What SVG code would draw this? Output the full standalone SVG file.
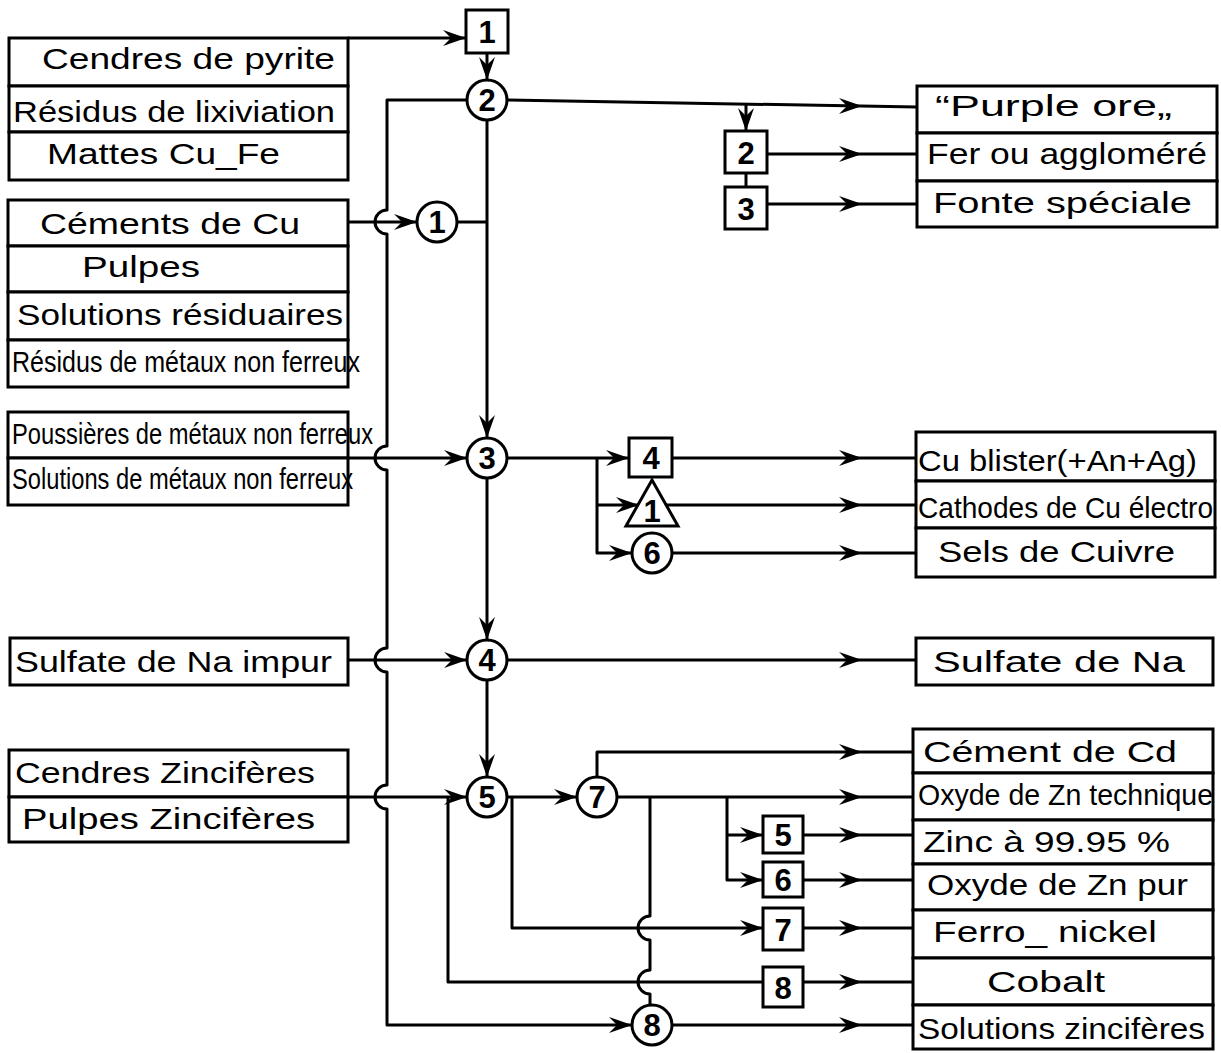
<svg xmlns="http://www.w3.org/2000/svg" xmlns:xlink="http://www.w3.org/1999/xlink" width="1221" height="1053" viewBox="0 0 1221 1053">
<style>
.bx{fill:#fff;stroke:#000;stroke-width:3}
.ln{fill:none;stroke:#000;stroke-width:3;stroke-linejoin:round}
.t{font-family:"Liberation Sans",Arial,sans-serif;font-size:30px;fill:#000}
.tc{font-family:"Liberation Sans",Arial,sans-serif;font-size:29px;fill:#000}
.n{font-family:"Liberation Sans",Arial,sans-serif;font-size:31px;font-weight:bold;text-anchor:middle;fill:#000}
</style>
<defs>
<path id="ah" d="M0,0 L-23,-8 L-15,0 L-23,8 Z" fill="#000"/>
</defs>
<rect width="1221" height="1053" fill="#fff"/>

<g id="connectors">
<path class="ln" d="M348,38 H466"/>
<use xlink:href="#ah" transform="translate(466,38)"/>
<path class="ln" d="M487,53 V80"/>
<use xlink:href="#ah" transform="translate(487,80) rotate(90)"/>
<path class="ln" d="M467,100 H387 V210 A12,12 0 0 0 387,234 V446 A12,12 0 0 0 387,470 V648 A12,12 0 0 0 387,672 V785 A12,12 0 0 0 387,809 V1025 H632"/>
<use xlink:href="#ah" transform="translate(632,1025)"/>
<path class="ln" d="M507,100 L917,107"/>
<use xlink:href="#ah" transform="translate(862,106)"/>
<path class="ln" d="M746,104 V131"/>
<use xlink:href="#ah" transform="translate(746,131) rotate(90)"/>
<path class="ln" d="M767,154 H917"/>
<use xlink:href="#ah" transform="translate(862,154)"/>
<path class="ln" d="M746,173 V187"/>
<path class="ln" d="M767,204 H917"/>
<use xlink:href="#ah" transform="translate(862,204)"/>
<path class="ln" d="M487,120 V438"/>
<use xlink:href="#ah" transform="translate(487,438) rotate(90)"/>
<path class="ln" d="M457,222 H487"/>
<path class="ln" d="M348,222 H417"/>
<use xlink:href="#ah" transform="translate(417,222)"/>
<path class="ln" d="M348,458 H467"/>
<use xlink:href="#ah" transform="translate(467,458)"/>
<path class="ln" d="M487,478 V640"/>
<use xlink:href="#ah" transform="translate(487,640) rotate(90)"/>
<path class="ln" d="M507,458 H629"/>
<use xlink:href="#ah" transform="translate(629,458)"/>
<path class="ln" d="M597,458 V553 H632"/>
<use xlink:href="#ah" transform="translate(632,553)"/>
<path class="ln" d="M597,505 H639"/>
<use xlink:href="#ah" transform="translate(639,505)"/>
<path class="ln" d="M672,458 H916"/>
<use xlink:href="#ah" transform="translate(862,458)"/>
<path class="ln" d="M665,505 H916"/>
<use xlink:href="#ah" transform="translate(862,505)"/>
<path class="ln" d="M672,553 H916"/>
<use xlink:href="#ah" transform="translate(862,553)"/>
<path class="ln" d="M348,660 H467"/>
<use xlink:href="#ah" transform="translate(467,660)"/>
<path class="ln" d="M507,660 H916"/>
<use xlink:href="#ah" transform="translate(862,660)"/>
<path class="ln" d="M487,680 V777"/>
<use xlink:href="#ah" transform="translate(487,777) rotate(90)"/>
<path class="ln" d="M348,797 H467"/>
<use xlink:href="#ah" transform="translate(467,797)"/>
<path class="ln" d="M507,797 H577"/>
<use xlink:href="#ah" transform="translate(577,797)"/>
<path class="ln" d="M597,777 V752 H913"/>
<use xlink:href="#ah" transform="translate(862,752)"/>
<path class="ln" d="M617,797 H913"/>
<use xlink:href="#ah" transform="translate(862,797)"/>
<path class="ln" d="M727,797 V880 H763"/>
<use xlink:href="#ah" transform="translate(763,880)"/>
<path class="ln" d="M727,835 H763"/>
<use xlink:href="#ah" transform="translate(763,835)"/>
<path class="ln" d="M803,835 H913"/>
<use xlink:href="#ah" transform="translate(862,835)"/>
<path class="ln" d="M803,880 H913"/>
<use xlink:href="#ah" transform="translate(862,880)"/>
<path class="ln" d="M512,797 V928 H763"/>
<use xlink:href="#ah" transform="translate(763,928)"/>
<path class="ln" d="M803,928 H913"/>
<use xlink:href="#ah" transform="translate(862,928)"/>
<path class="ln" d="M448,797 V982 H763"/>
<path class="ln" d="M803,982 H913"/>
<use xlink:href="#ah" transform="translate(862,982)"/>
<path class="ln" d="M650,797 V916 A12,12 0 0 0 650,940 V970 A12,12 0 0 0 650,994 V1005"/>
<path class="ln" d="M672,1025 H913"/>
<use xlink:href="#ah" transform="translate(862,1025)"/>
</g>

<g id="in-cendres-pyrite"><rect class="bx" x="9" y="38" width="339" height="48"/><text class="t" x="42" y="69" textLength="293" lengthAdjust="spacingAndGlyphs">Cendres de pyrite</text></g>
<g id="in-residus-lixiviation"><rect class="bx" x="9" y="86" width="339" height="46"/><text class="t" x="13" y="122" textLength="322" lengthAdjust="spacingAndGlyphs">Résidus de lixiviation</text></g>
<g id="in-mattes"><rect class="bx" x="9" y="132" width="339" height="48"/><text class="t" x="47" y="164" textLength="233" lengthAdjust="spacingAndGlyphs">Mattes Cu_Fe</text></g>

<g id="in-cements-cu"><rect class="bx" x="8" y="200" width="340" height="46"/><text class="t" x="40" y="234" textLength="260" lengthAdjust="spacingAndGlyphs">Céments de Cu</text></g>
<g id="in-pulpes"><rect class="bx" x="8" y="246" width="340" height="46"/><text class="t" x="82" y="277" textLength="118" lengthAdjust="spacingAndGlyphs">Pulpes</text></g>
<g id="in-solutions-residuaires"><rect class="bx" x="8" y="292" width="340" height="48"/><text class="t" x="17" y="325" textLength="326" lengthAdjust="spacingAndGlyphs">Solutions résiduaires</text></g>
<g id="in-residus-metaux"><rect class="bx" x="8" y="340" width="340" height="47"/><text class="tc" x="12" y="372" textLength="348" lengthAdjust="spacingAndGlyphs">Résidus de métaux non ferreux</text></g>

<g id="in-poussieres"><rect class="bx" x="8" y="412" width="340" height="46"/><text class="tc" x="12" y="444" textLength="361" lengthAdjust="spacingAndGlyphs">Poussières de métaux non ferreux</text></g>
<g id="in-solutions-metaux"><rect class="bx" x="8" y="458" width="340" height="47"/><text class="tc" x="12" y="489" textLength="341" lengthAdjust="spacingAndGlyphs">Solutions de métaux non ferreux</text></g>

<g id="in-sulfate-impur"><rect class="bx" x="10" y="638" width="338" height="47"/><text class="t" x="15" y="672" textLength="317" lengthAdjust="spacingAndGlyphs">Sulfate de Na impur</text></g>

<g id="in-cendres-zinc"><rect class="bx" x="9" y="750" width="339" height="47"/><text class="t" x="15" y="783" textLength="300" lengthAdjust="spacingAndGlyphs">Cendres Zincifères</text></g>
<g id="in-pulpes-zinc"><rect class="bx" x="9" y="797" width="339" height="45"/><text class="t" x="22" y="829" textLength="293" lengthAdjust="spacingAndGlyphs">Pulpes Zincifères</text></g>

<g id="box1"><rect class="bx" x="466" y="10" width="42" height="43"/><text class="n" x="487" y="43">1</text></g>
<g id="box2"><rect class="bx" x="725" y="131" width="42" height="42"/><text class="n" x="746" y="164">2</text></g>
<g id="box3"><rect class="bx" x="725" y="187" width="42" height="42"/><text class="n" x="746" y="220">3</text></g>
<g id="box4"><rect class="bx" x="629" y="438" width="43" height="39"/><text class="n" x="651" y="469">4</text></g>
<g id="box5"><rect class="bx" x="763" y="816" width="40" height="37"/><text class="n" x="783" y="846">5</text></g>
<g id="box6"><rect class="bx" x="763" y="862" width="40" height="35"/><text class="n" x="783" y="891">6</text></g>
<g id="box7"><rect class="bx" x="763" y="908" width="40" height="42"/><text class="n" x="783" y="941">7</text></g>
<g id="box8"><rect class="bx" x="763" y="967" width="40" height="40"/><text class="n" x="783" y="999">8</text></g>

<g id="circle1"><circle class="bx" cx="437" cy="222" r="20"/><text class="n" x="437" y="233">1</text></g>
<g id="circle2"><circle class="bx" cx="487" cy="100" r="20"/><text class="n" x="487" y="111">2</text></g>
<g id="circle3"><circle class="bx" cx="487" cy="458" r="20"/><text class="n" x="487" y="469">3</text></g>
<g id="circle4"><circle class="bx" cx="487" cy="660" r="20"/><text class="n" x="487" y="671">4</text></g>
<g id="circle5"><circle class="bx" cx="487" cy="797" r="20"/><text class="n" x="487" y="808">5</text></g>
<g id="circle6"><circle class="bx" cx="652" cy="553" r="20"/><text class="n" x="652" y="564">6</text></g>
<g id="circle7"><circle class="bx" cx="597" cy="797" r="20"/><text class="n" x="597" y="808">7</text></g>
<g id="circle8"><circle class="bx" cx="652" cy="1025" r="20"/><text class="n" x="652" y="1036">8</text></g>

<g id="triangle1"><polygon class="bx" points="652,480 678,526 626,526"/><text class="n" x="652" y="522">1</text></g>

<g id="out-purple-ore"><rect class="bx" x="917" y="86" width="300" height="47"/><text class="t" x="935" y="116" textLength="237" lengthAdjust="spacingAndGlyphs">“Purple  ore„</text></g>
<g id="out-fer"><rect class="bx" x="917" y="133" width="300" height="48"/><text class="t" x="927" y="164" textLength="280" lengthAdjust="spacingAndGlyphs">Fer ou aggloméré</text></g>
<g id="out-fonte"><rect class="bx" x="917" y="181" width="300" height="46"/><text class="t" x="933" y="213" textLength="259" lengthAdjust="spacingAndGlyphs">Fonte  spéciale</text></g>

<g id="out-cu-blister"><rect class="bx" x="916" y="432" width="299" height="49"/><text class="t" x="918" y="471" textLength="279" lengthAdjust="spacingAndGlyphs">Cu blister(+An+Ag)</text></g>
<g id="out-cathodes"><rect class="bx" x="916" y="481" width="299" height="47"/><text class="tc" x="918" y="518" textLength="295" lengthAdjust="spacingAndGlyphs">Cathodes de Cu électro</text></g>
<g id="out-sels-cuivre"><rect class="bx" x="916" y="528" width="299" height="49"/><text class="t" x="938" y="562" textLength="237" lengthAdjust="spacingAndGlyphs">Sels de  Cuivre</text></g>

<g id="out-sulfate-na"><rect class="bx" x="916" y="638" width="297" height="47"/><text class="t" x="933" y="672" textLength="252" lengthAdjust="spacingAndGlyphs">Sulfate de  Na</text></g>

<g id="out-cement-cd"><rect class="bx" x="913" y="729" width="300" height="44"/><text class="t" x="923" y="762" textLength="254" lengthAdjust="spacingAndGlyphs">Cément de  Cd</text></g>
<g id="out-oxyde-tech"><rect class="bx" x="913" y="773" width="300" height="47"/><text class="tc" x="918" y="805" textLength="295" lengthAdjust="spacingAndGlyphs">Oxyde de Zn technique</text></g>
<g id="out-zinc"><rect class="bx" x="913" y="820" width="300" height="44"/><text class="t" x="923" y="852" textLength="247" lengthAdjust="spacingAndGlyphs">Zinc à  99.95 %</text></g>
<g id="out-oxyde-pur"><rect class="bx" x="913" y="864" width="300" height="46"/><text class="t" x="927" y="895" textLength="261" lengthAdjust="spacingAndGlyphs">Oxyde de Zn pur</text></g>
<g id="out-ferro-nickel"><rect class="bx" x="913" y="910" width="300" height="48"/><text class="t" x="933" y="942" textLength="224" lengthAdjust="spacingAndGlyphs">Ferro_ nickel</text></g>
<g id="out-cobalt"><rect class="bx" x="913" y="958" width="300" height="47"/><text class="t" x="987" y="992" textLength="118" lengthAdjust="spacingAndGlyphs">Cobalt</text></g>
<g id="out-solutions-zinc"><rect class="bx" x="913" y="1005" width="300" height="44"/><text class="t" x="918" y="1039" textLength="287" lengthAdjust="spacingAndGlyphs">Solutions zincifères</text></g>
</svg>
